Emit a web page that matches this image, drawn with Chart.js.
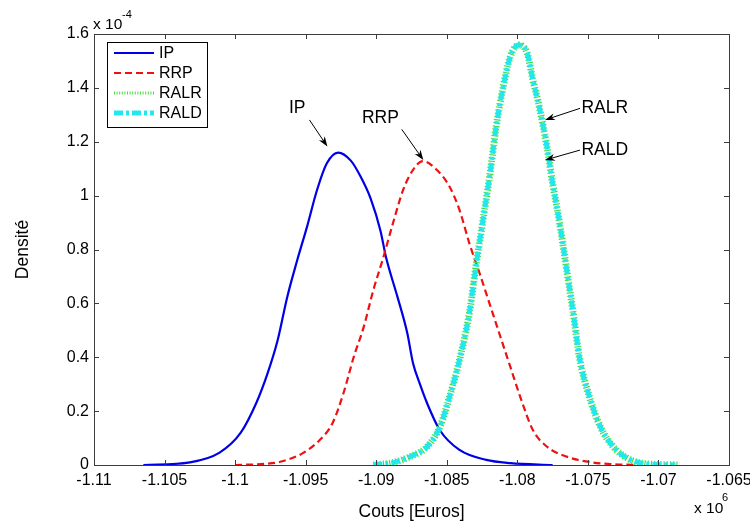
<!DOCTYPE html>
<html>
<head>
<meta charset="utf-8">
<script src="https://cdn.jsdelivr.net/npm/chart.js@4.4.0/dist/chart.umd.min.js"></script>
<style>
    html, body { margin: 0; padding: 0; background: #fff; }
    #wrap { width: 750px; height: 527px; }
</style>
</head>
<body>
<div id="wrap"><canvas id="density_chart" width="750" height="527"></canvas></div>
<script>
// costs in units of 1e6 euros, densities in units of 1e-4
var ipX = [-1.1065, -1.1032, -1.1011, -1.0996, -1.0985, -1.0977, -1.0970, -1.0963, -1.0956, -1.0949, -1.0942, -1.0935, -1.0927, -1.0918, -1.0911, -1.0904, -1.0897, -1.0893, -1.0885, -1.0878, -1.0874, -1.0869, -1.0864, -1.0855, -1.0841, -1.0822, -1.0805, -1.0775];
var ipY = [0, 0.01, 0.046, 0.12, 0.23, 0.34, 0.46, 0.625, 0.76, 0.885, 1.02, 1.12, 1.16, 1.13, 1.07, 0.99, 0.87, 0.77, 0.625, 0.49, 0.38, 0.30, 0.23, 0.13, 0.056, 0.019, 0.007, 0];

var rrpX = [-1.1000, -1.0977, -1.0968, -1.0952, -1.0940, -1.0931, -1.0923, -1.0916, -1.0909, -1.0902, -1.0895, -1.0888, -1.0881, -1.0874, -1.0867, -1.0857, -1.0848, -1.0841, -1.0834, -1.0826, -1.0819, -1.0812, -1.0805, -1.0798, -1.0789, -1.0779, -1.0765, -1.0746, -1.0732, -1.0713];
var rrpY = [0, 0.005, 0.012, 0.044, 0.093, 0.155, 0.27, 0.40, 0.51, 0.65, 0.77, 0.90, 1.02, 1.095, 1.128, 1.095, 1.033, 0.947, 0.823, 0.70, 0.588, 0.476, 0.365, 0.254, 0.13, 0.068, 0.031, 0.009, 0.003, 0];

var ralrX = [-1.0902, -1.0888, -1.0876, -1.0864, -1.0855, -1.0848, -1.0841, -1.0834, -1.0829, -1.0824, -1.0819, -1.0815, -1.0810, -1.0805, -1.0799, -1.0793, -1.0789, -1.0784, -1.0779, -1.0775, -1.0770, -1.0765, -1.0760, -1.0756, -1.0749, -1.0741, -1.0732, -1.0722, -1.0711, -1.0685];
var ralrY = [0, 0.009, 0.031, 0.068, 0.14, 0.254, 0.39, 0.564, 0.75, 0.92, 1.095, 1.256, 1.404, 1.516, 1.559, 1.528, 1.43, 1.318, 1.18, 1.046, 0.897, 0.724, 0.55, 0.40, 0.254, 0.14, 0.068, 0.025, 0.006, 0];

var raldX = [-1.0902, -1.0888, -1.0876, -1.0864, -1.0855, -1.0848, -1.0841, -1.0834, -1.0829, -1.0824, -1.0819, -1.0815, -1.0810, -1.0805, -1.0799, -1.0793, -1.0789, -1.0784, -1.0779, -1.0775, -1.0770, -1.0765, -1.0760, -1.0756, -1.0749, -1.0741, -1.0732, -1.0722, -1.0711, -1.0688];
var raldY = [0, 0.009, 0.031, 0.068, 0.14, 0.254, 0.39, 0.564, 0.75, 0.92, 1.095, 1.256, 1.404, 1.516, 1.559, 1.528, 1.43, 1.318, 1.18, 1.046, 0.897, 0.724, 0.55, 0.40, 0.254, 0.14, 0.068, 0.025, 0.006, 0];

var xTicks = [-1.11, -1.105, -1.1, -1.095, -1.09, -1.085, -1.08, -1.075, -1.07, -1.065];
var yTicks = [0, 0.2, 0.4, 0.6, 0.8, 1, 1.2, 1.4, 1.6];

var seriesNames = ["IP", "RRP", "RALR", "RALD"];

// text labels with arrows: text centre, arrow tail, arrow tip (data units)
var arrowLabels = [
    { text: "IP",   tx: -1.0956, ty: 1.325, fx: -1.09473, fy: 1.281, px: -1.09346, py: 1.182 },
    { text: "RRP",  tx: -1.0897, ty: 1.288, fx: -1.08819, fy: 1.246, px: -1.08666, py: 1.132 },
    { text: "RALR", tx: -1.0738, ty: 1.325, fx: -1.07556, fy: 1.324, px: -1.07804, py: 1.281 },
    { text: "RALD", tx: -1.0738, ty: 1.169, fx: -1.07556, fy: 1.169, px: -1.07804, py: 1.132 }
];

var FONT = "'Liberation Sans', Arial, sans-serif";

function toPoints(xs, ys) {
    var pts = [];
    for (var i = 0; i < xs.length; i++) {
        pts.push({ x: xs[i], y: ys[i] });
    }
    return pts;
}

var styles = [
    { color: '#0000e6', width: 2.2, dash: [] },
    { color: '#ee1111', width: 2.2, dash: [7, 4] },
    { color: '#44dd44', width: 7, dash: [1.2, 2] },
    { color: '#22e8ee', width: 5, dash: [9, 3, 3, 3] }
];

var frameLegend = {
    id: 'frameLegend',
    afterDraw: function (chart) {
        var ctx = chart.ctx;
        var a = chart.chartArea;
        var xs = chart.scales.x, ys = chart.scales.y;
        ctx.save();

        // box and inward ticks
        ctx.strokeStyle = '#3c3c3c';
        ctx.lineWidth = 1;
        ctx.strokeRect(Math.round(a.left) + 0.5, Math.round(a.top) + 0.5, Math.round(a.right - a.left), Math.round(a.bottom - a.top));
        ctx.beginPath();
        xTicks.forEach(function (v) {
            var px = Math.round(xs.getPixelForValue(v)) + 0.5;
            ctx.moveTo(px, a.bottom); ctx.lineTo(px, a.bottom - 5);
            ctx.moveTo(px, a.top); ctx.lineTo(px, a.top + 5);
        });
        yTicks.forEach(function (v) {
            var py = Math.round(ys.getPixelForValue(v)) + 0.5;
            ctx.moveTo(a.left, py); ctx.lineTo(a.left + 5, py);
            ctx.moveTo(a.right, py); ctx.lineTo(a.right - 5, py);
        });
        ctx.stroke();

        // exponents
        ctx.fillStyle = '#000';
        ctx.textAlign = 'left';
        ctx.textBaseline = 'alphabetic';
        ctx.font = '15.5px ' + FONT;
        ctx.fillText('x 10', a.left - 1, 29);
        ctx.fillText('x 10', 694, 513);
        ctx.font = '11px ' + FONT;
        ctx.fillText('-4', a.left + 28, 18);
        ctx.fillText('6', 722, 501);

        // legend
        var lx = 107, ly = 42, lw = 100, lh = 85;
        ctx.fillStyle = '#fff';
        ctx.fillRect(lx, ly, lw, lh);
        ctx.strokeStyle = '#000';
        ctx.lineWidth = 1;
        ctx.strokeRect(lx + 0.5, ly + 0.5, lw, lh);
        ctx.font = '16px ' + FONT;
        ctx.textBaseline = 'middle';
        for (var i = 0; i < seriesNames.length; i++) {
            var yy = ly + 11 + i * 20;
            var st = styles[i];
            ctx.strokeStyle = st.color;
            ctx.lineWidth = i == 2 ? 3 : (i == 3 ? 5 : st.width);
            ctx.setLineDash(i == 2 ? [1, 1.6] : st.dash);
            ctx.beginPath();
            ctx.moveTo(lx + 7, yy);
            ctx.lineTo(lx + 47, yy);
            ctx.stroke();
            ctx.setLineDash([]);
            ctx.fillStyle = '#000';
            ctx.fillText(seriesNames[i], lx + 52, yy + 1);
        }

        // arrow labels
        ctx.font = '17.5px ' + FONT;
        ctx.textAlign = 'center';
        arrowLabels.forEach(function (lab) {
            var tx = xs.getPixelForValue(lab.tx), ty = ys.getPixelForValue(lab.ty);
            var fx = xs.getPixelForValue(lab.fx), fy = ys.getPixelForValue(lab.fy);
            var px = xs.getPixelForValue(lab.px), py = ys.getPixelForValue(lab.py);
            ctx.fillStyle = '#000';
            ctx.fillText(lab.text, tx, ty);
            var ang = Math.atan2(py - fy, px - fx);
            ctx.strokeStyle = '#000';
            ctx.lineWidth = 1;
            ctx.beginPath();
            ctx.moveTo(fx, fy);
            ctx.lineTo(px - 6 * Math.cos(ang), py - 6 * Math.sin(ang));
            ctx.stroke();
            ctx.beginPath();
            ctx.moveTo(px, py);
            ctx.lineTo(px - 10 * Math.cos(ang) + 3.5 * Math.sin(ang), py - 10 * Math.sin(ang) - 3.5 * Math.cos(ang));
            ctx.lineTo(px - 7 * Math.cos(ang), py - 7 * Math.sin(ang));
            ctx.lineTo(px - 10 * Math.cos(ang) - 3.5 * Math.sin(ang), py - 10 * Math.sin(ang) + 3.5 * Math.cos(ang));
            ctx.closePath();
            ctx.fill();
        });
        ctx.restore();
    }
};

var allX = [ipX, rrpX, ralrX, raldX];
var allY = [ipY, rrpY, ralrY, raldY];
var datasets = [];
for (var d = 0; d < seriesNames.length; d++) {
    datasets.push({
        label: seriesNames[d],
        data: toPoints(allX[d], allY[d]),
        borderColor: styles[d].color,
        backgroundColor: 'transparent',
        borderWidth: styles[d].width,
        borderDash: styles[d].dash,
        borderCapStyle: 'butt',
        pointRadius: 0,
        cubicInterpolationMode: 'monotone',
        fill: false,
        order: seriesNames.length - d
    });
}

var ctx = document.getElementById('density_chart').getContext('2d');
var density_chart = new Chart(ctx, {
    type: 'line',
    data: { datasets: datasets },
    options: {
        responsive: false,
        animation: false,
        events: [],
        layout: { padding: { left: 0, right: 21, top: 34, bottom: 0 } },
        plugins: {
            legend: { display: false },
            title: { display: false },
            tooltip: { enabled: false }
        },
        scales: {
            x: {
                type: 'linear',
                min: -1.11,
                max: -1.065,
                grid: { display: false, drawTicks: false },
                border: { display: false },
                afterBuildTicks: function (scale) {
                    scale.ticks = xTicks.map(function (v) { return { value: v }; });
                },
                afterFit: function (scale) {
                    scale.height = 62;
                    scale.paddingLeft = 0;
                    scale.paddingRight = 0;
                },
                ticks: {
                    autoSkip: false,
                    maxRotation: 0,
                    padding: 6,
                    color: '#000',
                    font: { family: FONT, size: 16 },
                    callback: function (v) { return String(Number(v.toFixed(3))); }
                },
                title: {
                    display: true,
                    text: 'Couts [Euros]',
                    color: '#000',
                    font: { family: FONT, size: 17.5 },
                    padding: { top: 0, bottom: 4 }
                }
            },
            y: {
                min: 0,
                max: 1.6,
                grid: { display: false, drawTicks: false },
                border: { display: false },
                afterBuildTicks: function (scale) {
                    scale.ticks = yTicks.map(function (v) { return { value: v }; });
                },
                afterFit: function (scale) {
                    scale.width = 94;
                    scale.paddingTop = 0;
                    scale.paddingBottom = 0;
                },
                ticks: {
                    padding: 5,
                    color: '#000',
                    font: { family: FONT, size: 16 },
                    callback: function (v) { return String(Number(v.toFixed(1))); }
                },
                title: {
                    display: true,
                    text: 'Densité',
                    color: '#000',
                    font: { family: FONT, size: 17.5 },
                    padding: { top: 13, bottom: 0 }
                }
            }
        }
    },
    plugins: [frameLegend]
});
</script>
</body>
</html>
